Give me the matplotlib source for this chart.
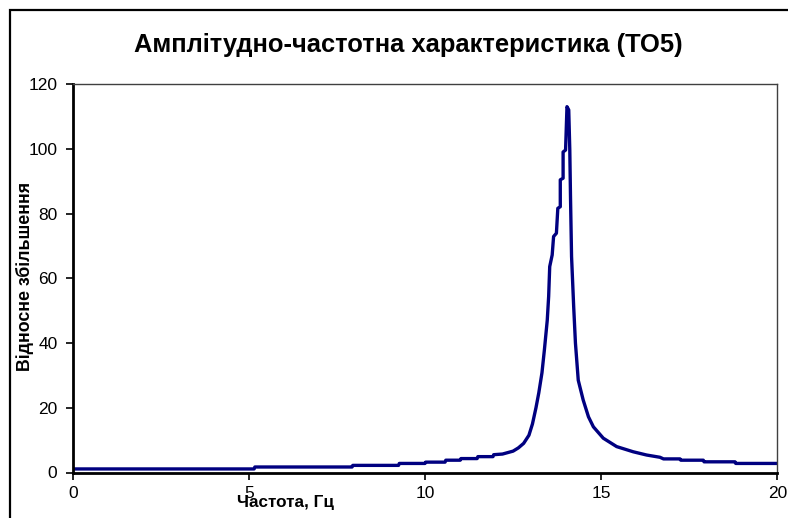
import matplotlib
matplotlib.use("Agg")
import matplotlib.pyplot as plt
from matplotlib.patches import Rectangle

plt.rcParams['font.family'] = ['Liberation Sans', 'DejaVu Sans']

title = "Амплітудно-частотна характеристика (ТО5)"
xlabel = "Частота, Гц"
ylabel = "Відносне збільшення"

freq = [0.0, 5.15, 5.17, 7.93, 7.95, 9.25, 9.27, 10.0, 10.02, 10.57, 10.59, 11.0,
        11.02, 11.48, 11.5, 11.93, 11.95, 12.2, 12.5, 12.65, 12.8, 12.95, 13.05,
        13.15, 13.23, 13.32, 13.39, 13.47, 13.51, 13.54, 13.61, 13.65, 13.73,
        13.77, 13.84, 13.84, 13.92, 13.92, 13.99, 14.03, 14.08, 14.11, 14.13,
        14.16, 14.22, 14.27, 14.35, 14.49, 14.64, 14.78, 15.06, 15.44, 15.91,
        16.29, 16.67, 16.77, 17.24, 17.26, 17.9, 17.92, 18.8, 18.82, 20.0]
amp = [1.1, 1.1, 1.7, 1.7, 2.2, 2.2, 2.8, 2.8, 3.2, 3.2, 3.8, 3.8,
       4.3, 4.3, 4.9, 4.9, 5.5, 5.7, 6.6, 7.6, 9.0, 11.5, 15.0,
       20.0, 24.6, 30.8, 38.0, 47.0, 54.4, 63.6, 67.2, 72.9, 73.9,
       81.6, 82.1, 90.4, 90.9, 99.0, 99.6, 113.0, 112.0, 99.6, 85.2,
       66.7, 51.3, 40.0, 28.5, 22.4, 17.2, 14.1, 10.6, 8.0, 6.4,
       5.4, 4.7, 4.2, 4.2, 3.8, 3.8, 3.3, 3.3, 2.8, 2.8]

xticks = [0, 5, 10, 15, 20]
yticks = [0, 20, 40, 60, 80, 100, 120]

W, H = 788, 518
fig = plt.figure(figsize=(W / 100, H / 100), dpi=100)
fig.patch.set_facecolor('white')

# outer chart border (left and top visible; right/bottom cropped)
fig.patches.append(Rectangle((9.5 / W, -0.1), 1.2, 1.1 - 10.5 / H,
                             transform=fig.transFigure, fill=False,
                             edgecolor='black', linewidth=1.6))

ax = fig.add_axes([72.7 / W, (H - 472.5) / H, (777.3 - 72.7) / W, (472.5 - 84) / H])
ax.plot(freq, amp, color='#000080', linewidth=2.4, solid_joinstyle='round')

ax.set_xlim(0, 20)
ax.set_ylim(0, 120)
ax.set_xticks(xticks)
ax.set_yticks(yticks)
ax.set_xticklabels([str(t) for t in xticks])
ax.set_yticklabels([str(t) for t in yticks])
ax.tick_params(axis='both', direction='out', length=5, width=1.2, labelsize=12.5,
               colors='black')
ax.tick_params(axis='y', pad=6)
ax.tick_params(axis='x', pad=5)

for s in ['left', 'bottom']:
    ax.spines[s].set_linewidth(2.0)
    ax.spines[s].set_color('black')
for s in ['top', 'right']:
    ax.spines[s].set_linewidth(1.0)
    ax.spines[s].set_color('#404040')

fig.text(408 / W, 1 - 45 / H, title, ha='center', va='center',
         fontsize=18.4, fontweight='bold')
fig.text(285 / W, 1 - 502 / H, xlabel, ha='center', va='center',
         fontsize=12.3, fontweight='bold')
fig.text(25 / W, 1 - 276 / H, ylabel, ha='center', va='center', rotation=90,
         fontsize=12.8, fontweight='bold')

fig.savefig('out.png', dpi=100)
